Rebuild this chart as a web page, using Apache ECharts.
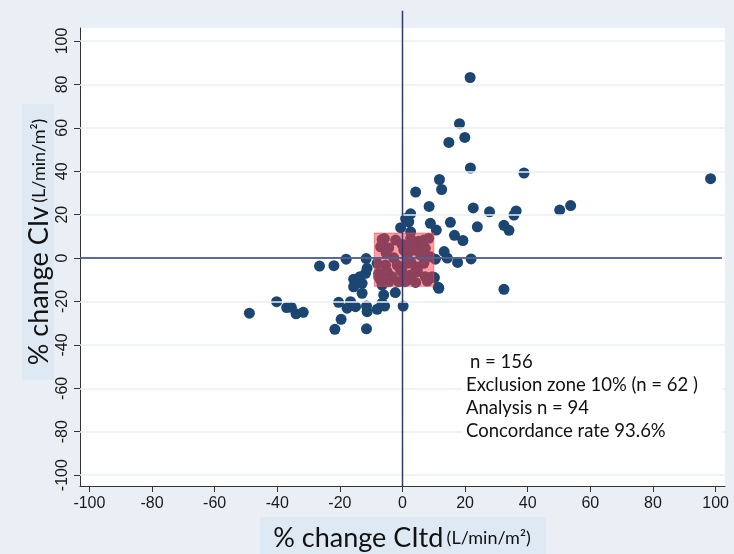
<!DOCTYPE html>
<html>
<head>
<meta charset="utf-8">
<script src="https://cdn.jsdelivr.net/npm/echarts@6/dist/echarts.min.js"></script>
<style>
  html, body { margin: 0; padding: 0; background: #e9eff4; }
  #chart { width: 734px; height: 554px; }
</style>
</head>
<body>
<div id="chart"></div>
<script>
// tick values on both axes
var xTicks = [-100, -80, -60, -40, -20, 0, 20, 40, 60, 80, 100];
var yTicks = [-100, -80, -60, -40, -20, 0, 20, 40, 60, 80, 100];

// points outside the exclusion zone [% change CItd, % change CIv]
var outsidePoints = [
  [21.6, 83.2], [18.2, 61.9], [19.9, 55.6], [14.8, 53.3], [21.7, 41.5], [38.8, 39.2],
  [98.4, 36.6], [11.8, 36.2], [12.5, 31.6], [4.2, 30.4], [8.5, 23.8], [22.6, 23.1],
  [27.8, 21.3], [53.7, 24.2], [50.2, 22.1], [36.3, 21.7], [35.6, 19.8], [2.6, 20.4],
  [1.0, 18.2], [2.0, 16.7], [-0.6, 14.0], [2.6, 12.1], [8.9, 16.0], [10.8, 12.9],
  [15.3, 16.5], [16.6, 10.5], [19.3, 8.1], [23.9, 14.4], [32.4, 15.1], [34.0, 12.8],
  [13.3, 3.0], [14.3, 0.0], [17.6, -2.0], [21.9, -0.4], [10.5, -0.5], [10.2, -9.0],
  [11.4, -13.4], [32.4, -14.4],
  [-48.9, -25.4], [-40.2, -20.1], [-37.0, -22.8], [-35.5, -22.7], [-34.0, -25.7], [-31.7, -25.0],
  [-26.5, -3.7], [-21.9, -3.5], [-18.0, -0.5], [-11.6, -0.2], [-15.6, -9.7], [-12.9, -11.6],
  [-15.6, -13.2], [-12.9, -16.2], [-11.8, -7.0], [-11.3, -4.7], [-13.6, -8.6], [-20.4, -20.4],
  [-16.6, -20.1], [-17.7, -23.1], [-15.0, -22.4], [-11.3, -24.7], [-11.5, -22.1], [-8.1, -23.6],
  [-6.5, -20.8], [-6.0, -17.0], [-6.5, -12.4], [-19.6, -28.2], [-21.6, -32.8], [-11.5, -32.6],
  [-2.3, -15.9], [0.2, -22.1], [-5.7, -22.1], [-8.1, -2.4], [-7.6, -8.6], [11.6, -13.9]
];

// points inside the exclusion zone
var zonePoints = [
  [-5.8, 9.0], [-2.2, 8.3], [-0.1, 6.3], [2.6, 9.0], [5.2, 7.8], [8.4, 9.1],
  [-7.0, 5.2], [-4.4, 4.7], [1.0, 5.2], [4.2, 5.2], [7.3, 4.5], [-2.8, 0.1], [1.5, 1.4],
  [5.8, 1.4], [8.9, 0.6], [-5.4, -3.2], [-1.7, -3.2], [2.6, -1.7], [4.2, -4.0], [6.8, -2.4],
  [-7.6, -7.0], [-4.9, -6.3], [-3.3, -8.6], [-0.1, -6.3], [2.6, -7.8], [4.7, -6.3], [7.3, -8.6],
  [9.5, -8.6], [-7.0, -10.1], [-1.2, -10.9], [1.5, -10.1], [4.2, -11.2], [7.9, -10.6],
  [-6.0, 5.5], [-5.2, 2.2], [0.4, 3.7], [3.6, 3.7], [-6.5, 8.6],
  [3.1, 7.5], [6.8, 8.3], [1.5, -2.4], [4.7, -5.5], [-0.6, -5.5], [0.7, -10.9], [-4.4, -10.9]
];

// exclusion zone corners [xMin, yMax, xMax, yMin]
var exclusionZone = [[-9, 11.5, 10, -13]];
var zeroLineV = [[0, -105], [0, 114]];
var zeroLineH = [[-103, 0], [102, 0]];
var noteLines = ['n = 156', 'Exclusion zone 10% (n = 62 )', 'Analysis n = 94', 'Concordance rate 93.6%'];

var chart = echarts.init(document.getElementById('chart'));

var labelFont = 'Liberation Sans, Arial, sans-serif';
var titleFont = 'Lato, Open Sans, sans-serif';

var noteGraphics = noteLines.map(function (t, i) {
  return {
    type: 'text', z: 20,
    x: i === 0 ? 470 : 466, y: 362 + i * 23,
    style: { text: t, fontFamily: titleFont, fontSize: 18.5, fill: '#111', verticalAlign: 'middle' }
  };
});

var titleRich = {
  a: { fontFamily: titleFont, fontSize: 27, fill: '#111' },
  b: { fontFamily: titleFont, fontSize: 18, fill: '#111' }
};

var option = {
  backgroundColor: '#e9eff4',
  animation: false,
  grid: { left: 80, right: 9, top: 28, bottom: 68, show: true, backgroundColor: '#ffffff', borderWidth: 0 },
  xAxis: {
    type: 'value', min: -103, max: 103,
    axisLine: { show: true, onZero: false, lineStyle: { color: '#333', width: 1 } },
    axisTick: { show: true, customValues: xTicks, length: 6, lineStyle: { color: '#333' } },
    axisLabel: { customValues: xTicks, fontSize: 16, color: '#1a1a1a', fontFamily: labelFont, margin: 10 },
    splitLine: { show: false }
  },
  yAxis: {
    type: 'value', min: -105, max: 106,
    axisLine: { show: true, onZero: false, lineStyle: { color: '#333', width: 1 } },
    axisTick: { show: true, customValues: yTicks, length: 6, lineStyle: { color: '#333' } },
    axisLabel: { customValues: yTicks, rotate: 90, fontSize: 16, color: '#1a1a1a', fontFamily: labelFont, margin: 9 },
    splitLine: { show: false }
  },
  graphic: [
    { type: 'rect', z: 10, shape: { x: 462, y: 350, width: 260, height: 100 }, style: { fill: '#ffffff' } },
    { type: 'rect', z: 10, shape: { x: 22, y: 104, width: 32, height: 276 }, style: { fill: '#dfe9f4' } },
    {
      type: 'text', z: 11, x: 39, y: 242, rotation: Math.PI / 2,
      style: { text: '{a|% change CIv} {b|(L/min/m²)}', align: 'center', verticalAlign: 'middle', rich: titleRich }
    },
    { type: 'rect', z: 10, shape: { x: 260, y: 517, width: 286, height: 37 }, style: { fill: '#dfe9f4' } },
    {
      type: 'text', z: 11, x: 402, y: 538,
      style: { text: '{a|% change CItd} {b|(L/min/m²)}', align: 'center', verticalAlign: 'middle', rich: titleRich }
    }
  ].concat(noteGraphics),
  series: [
    {
      // faint horizontal grid lines
      type: 'line', data: [], z: 1, silent: true,
      markLine: {
        silent: true, symbol: 'none', label: { show: false },
        lineStyle: { color: '#e9f0f2', width: 1.5, type: 'solid' },
        data: yTicks.map(function (v) { return { yAxis: v }; })
      }
    },
    {
      type: 'scatter', z: 3, symbolSize: 11,
      itemStyle: { color: '#1b4672', opacity: 1 },
      data: outsidePoints.concat(zonePoints)
    },
    {
      type: 'custom', z: 4, silent: true,
      data: exclusionZone,
      renderItem: function (params, api) {
        var p1 = api.coord([api.value(0), api.value(1)]);
        var p2 = api.coord([api.value(2), api.value(3)]);
        return {
          type: 'rect',
          shape: { x: p1[0], y: p1[1], width: p2[0] - p1[0], height: p2[1] - p1[1] },
          style: { fill: 'rgba(255,60,65,0.5)', stroke: 'rgba(245,80,80,0.6)', lineWidth: 1 }
        };
      }
    },
    {
      type: 'line', z: 5, clip: false, silent: true, symbol: 'none',
      lineStyle: { color: '#2c3b7e', width: 1.5 },
      data: zeroLineV
    },
    {
      type: 'line', z: 5, clip: false, silent: true, symbol: 'none',
      lineStyle: { color: '#2c3b7e', width: 1.5 },
      data: zeroLineH
    }
  ]
};

chart.setOption(option);
</script>
</body>
</html>
